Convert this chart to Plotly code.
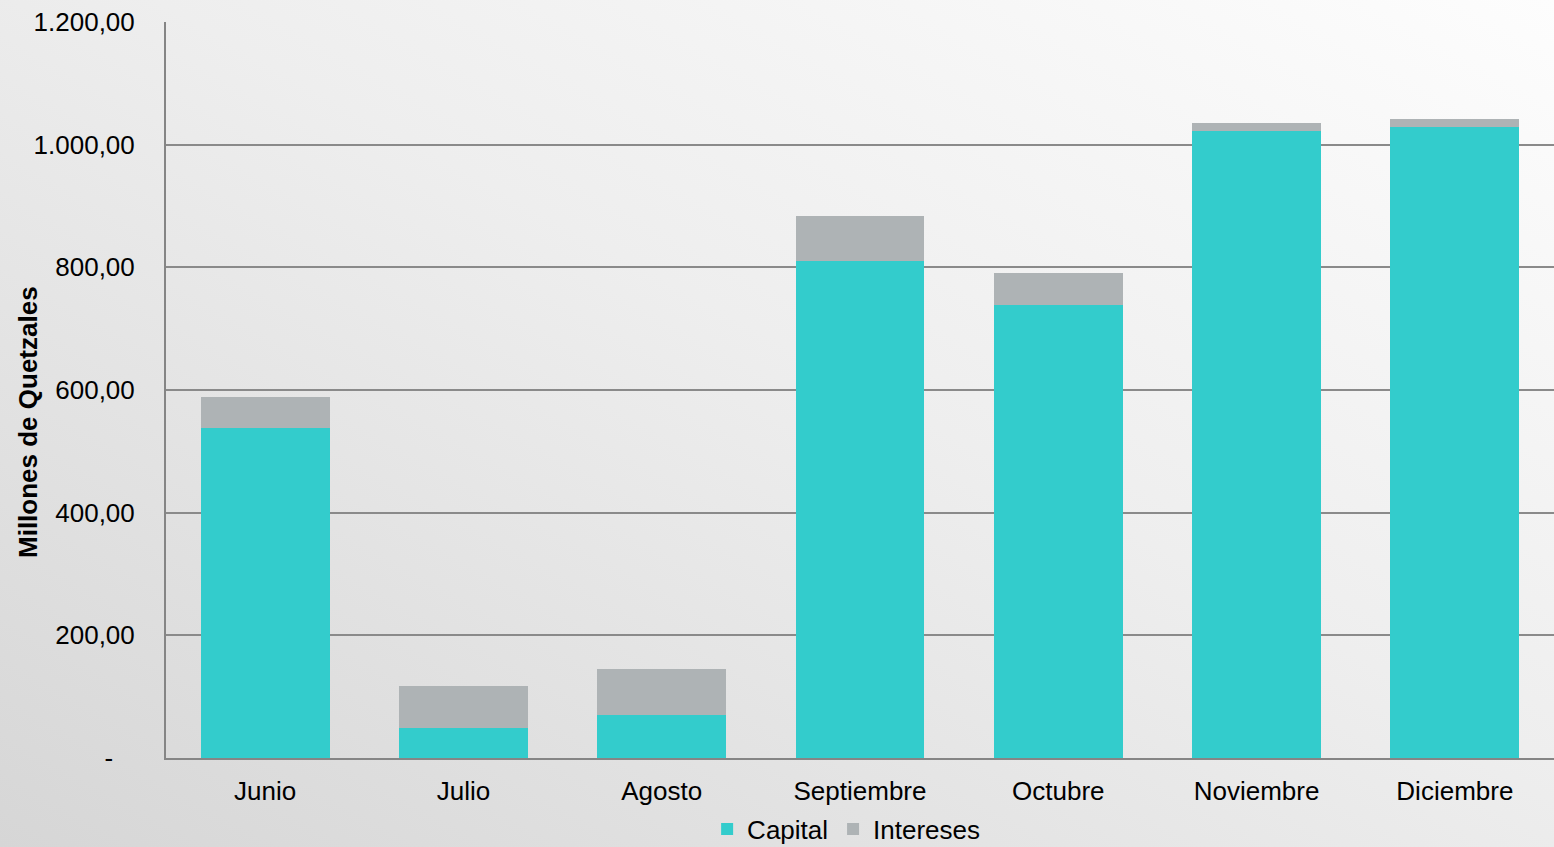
import base64
import plotly.graph_objects as go

meses = ["Junio", "Julio", "Agosto", "Septiembre", "Octubre", "Noviembre", "Diciembre"]
capital = [538, 49, 70, 810, 739, 1022, 1029]
intereses = [51, 68, 75, 73, 52, 13, 13]
y_ticks = [0, 200, 400, 600, 800, 1000, 1200]
y_tick_labels = ["-\u00a0\u00a0\u00a0", "200,00", "400,00", "600,00", "800,00", "1.000,00", "1.200,00"]

W, H = 1554, 847
ML, MR, MT, MB = 166, 0, 22, 89
PW, PH = W - ML - MR, H - MT - MB

svg = (
    '<svg xmlns="http://www.w3.org/2000/svg" width="1554" height="847">'
    '<defs><linearGradient id="g" x1="1" y1="0" x2="0" y2="1">'
    '<stop offset="0" stop-color="#fdfdfd"/><stop offset="0.45" stop-color="#eeeeee"/>'
    '<stop offset="1" stop-color="#d6d6d6"/></linearGradient></defs>'
    '<rect width="1554" height="847" fill="url(#g)"/></svg>'
)
bg_uri = "data:image/svg+xml;base64," + base64.b64encode(svg.encode()).decode()

fig = go.Figure()
fig.add_trace(go.Bar(x=meses, y=capital, name="Capital", marker=dict(color="#33CCCC", line=dict(width=0))))
fig.add_trace(go.Bar(x=meses, y=intereses, name="Intereses", marker=dict(color="#AEB3B5", line=dict(width=0))))

font = "Liberation Sans, Arial, Helvetica, sans-serif"
fig.update_layout(
    barmode="stack",
    bargap=0.35,
    width=W, height=H,
    margin=dict(l=ML, r=MR, t=MT, b=MB, autoexpand=False),
    paper_bgcolor="#e8e8e8",
    plot_bgcolor="rgba(0,0,0,0)",
    font=dict(family=font, size=26, color="#000000"),
    showlegend=True,
    legend=dict(orientation="h", x=0.49, xanchor="center", yref="container", y=0.021, yanchor="middle",
                font=dict(size=26), itemwidth=30, traceorder="normal", bgcolor="rgba(0,0,0,0)"),
    xaxis=dict(showline=True, linecolor="#858585", linewidth=2, ticks="", ticklabelstandoff=9,
               tickfont=dict(size=26)),
    yaxis=dict(range=[0, 1200], tickvals=y_ticks, ticktext=y_tick_labels,
               showgrid=True, gridcolor="#8a8a8a", gridwidth=2,
               showline=True, linecolor="#858585", linewidth=2, ticks="",
               ticklabelstandoff=24, tickfont=dict(size=26), zeroline=False),
    images=[dict(source=bg_uri, xref="paper", yref="paper",
                 x=-ML / PW, y=1 + MT / PH, sizex=W / PW, sizey=H / PH,
                 xanchor="left", yanchor="top", sizing="stretch", layer="below")],
    annotations=[dict(text="<b>Millones de Quetzales</b>", textangle=-90, showarrow=False,
                      xref="paper", yref="paper", x=(28 - ML) / PW, y=(758 - 422) / PH,
                      xanchor="center", yanchor="middle", font=dict(size=26))],
)
fig.write_html("out.html", config={"displayModeBar": False},
               post_script="document.body.style.margin='0';document.body.style.padding='0';")
